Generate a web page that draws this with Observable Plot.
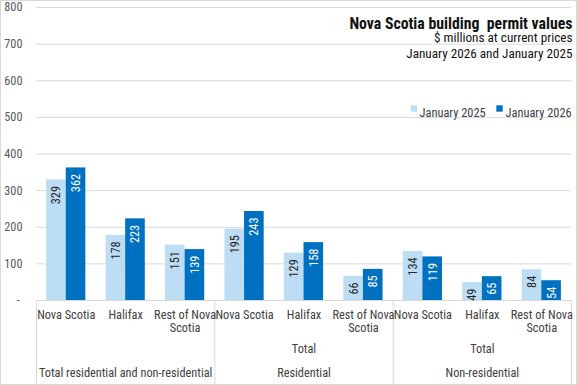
<!DOCTYPE html>
<html>
<head>
<meta charset="utf-8">
<script src="https://cdn.jsdelivr.net/npm/d3@7"></script>
<script src="https://cdn.jsdelivr.net/npm/@observablehq/plot@0.6"></script>
<style>
  html, body { margin: 0; padding: 0; background: #fff; }
  #chart svg { display: block; background: #fff; outline: 1px solid #d9d9d9; outline-offset: -1px; }
</style>
</head>
<body>
<div id="chart"></div>
<script>
const title = "Nova Scotia building  permit values";
const subtitle1 = "$ millions at current prices";
const subtitle2 = "January 2026 and January 2025";
const groups = ["Total residential and non-residential", "Residential", "Non-residential"];
const subgroups = ["", "Total", "Total"];
const places = ["Nova Scotia", "Halifax", "Rest of Nova\nScotia"];
const series = ["January 2025", "January 2026"];
const jan2025 = [329, 178, 151, 195, 129, 66, 134, 49, 84];
const jan2026 = [362, 223, 139, 243, 158, 85, 119, 65, 54];
const yTicks = [0, 100, 200, 300, 400, 500, 600, 700, 800];
const colors = ["#BDDDF5", "#0070C0"];

const FONT = "Roboto Condensed, Roboto, sans-serif";
const W = 0.33; // width of one bar, in category units

const cats = [];
groups.forEach((g, gi) => places.forEach((p, pi) => cats.push({i: gi * places.length + pi, group: g, place: p})));
const rows = [];
cats.forEach(c => {
  rows.push({i: c.i, s: 0, series: series[0], value: jan2025[c.i]});
  rows.push({i: c.i, s: 1, series: series[1], value: jan2026[c.i]});
});
const bounds = d3.range(groups.length + 1).map(k => k * places.length - 0.5);
const groupCenters = groups.map((g, k) => k * places.length + (places.length - 1) / 2);

// legend item offsets from the right edge of the frame (px)
const legendSwatchDx = [-157.5, -72];
const legendTextDx = [-152, -66];

const plot = Plot.plot({
  width: 577,
  height: 385,
  marginLeft: 36,
  marginRight: 6,
  marginTop: 7,
  marginBottom: 85,
  x: {type: "linear", domain: [-0.5, cats.length - 0.5], axis: null},
  y: {domain: [0, 800], axis: null},
  color: {domain: series, range: colors},
  marks: [
    Plot.gridY(yTicks.filter(d => d > 0), {stroke: "#d9d9d9", strokeOpacity: 1}),
    Plot.axisY(yTicks, {tickSize: 0, tickPadding: 14, fontSize: 12.3, fontFamily: FONT, fill: "#595959", label: null,
      tickFormat: d => d === 0 ? "-\u00a0" : String(d)}),
    Plot.rectY(rows, {
      x1: d => d.i + (d.s === 0 ? -W : 0),
      x2: d => d.i + (d.s === 0 ? 0 : W),
      y: "value", fill: "series"
    }),
    Plot.ruleY([0], {stroke: "#d9d9d9"}),
    Plot.ruleX(bounds, {x: d => d, y1: 0, y2: 0, insetBottom: -85, stroke: "#d9d9d9"}),
    Plot.text(rows.filter(d => d.s === 0), {
      x: d => d.i - W / 2, y: "value", text: d => String(d.value),
      rotate: -90, textAnchor: "end", dy: 6, fill: "#262626", fontSize: 12.3, fontFamily: FONT
    }),
    Plot.text(rows.filter(d => d.s === 1), {
      x: d => d.i + W / 2, y: "value", text: d => String(d.value),
      rotate: -90, textAnchor: "end", dy: 6, fill: "#ffffff", fontSize: 12.3, fontFamily: FONT
    }),
    Plot.text(cats, {x: "i", text: "place", frameAnchor: "bottom", lineAnchor: "top",
      dy: 9, lineHeight: 1.08, fill: "#404040", fontSize: 12.3, fontFamily: FONT}),
    Plot.text(subgroups, {x: (d, k) => groupCenters[k], text: d => d, frameAnchor: "bottom",
      dy: 52, fill: "#404040", fontSize: 12.3, fontFamily: FONT}),
    Plot.text(groups, {x: (d, k) => groupCenters[k], text: d => d, frameAnchor: "bottom",
      dy: 76, fill: "#404040", fontSize: 12.3, fontFamily: FONT}),
    Plot.text([title], {text: d => d, frameAnchor: "top-right", textAnchor: "end",
      dx: 1, dy: 10, fontWeight: "bold", fontSize: 15.8, fill: "#111", fontFamily: FONT}),
    Plot.text([subtitle1], {text: d => d, frameAnchor: "top-right", textAnchor: "end",
      dx: 1, dy: 25.5, fontSize: 13.2, fill: "#111", fontFamily: FONT}),
    Plot.text([subtitle2], {text: d => d, frameAnchor: "top-right", textAnchor: "end",
      dx: 1, dy: 41, fontSize: 13.2, fill: "#111", fontFamily: FONT}),
    ...series.map((s, k) => Plot.dot([s], {frameAnchor: "top-right", symbol: "square", r: 3.6,
      fill: d => d, dx: legendSwatchDx[k], dy: 101})),
    ...series.map((s, k) => Plot.text([s], {frameAnchor: "top-right", textAnchor: "start",
      text: d => d, dx: legendTextDx[k], dy: 101, fontSize: 12.4, fill: "#404040", fontFamily: FONT}))
  ]
});
document.getElementById("chart").appendChild(plot);
</script>
</body>
</html>
